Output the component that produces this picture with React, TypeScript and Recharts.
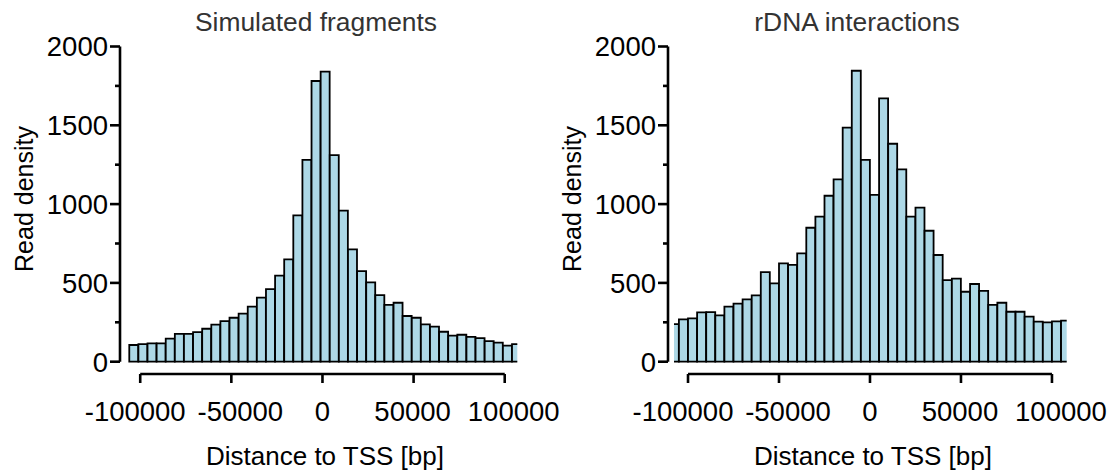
import { BarChart, Bar, XAxis, YAxis, ReferenceLine } from "recharts";

// bin centres (bp) and read densities
const simulatedBins = [
    -103500, -98500, -93500, -88500, -83500, -78500, -73500, -68500, -63500, -58500,
    -53500, -48500, -43500, -38500, -33500, -28500, -23500, -18500, -13500, -8500,
    -3500, 1500, 6500, 11500, 16500, 21500, 26500, 31500, 36500, 41500,
    46500, 51500, 56500, 61500, 66500, 71500, 76500, 81500, 86500, 91500,
    96500, 101500, 106500,
];
const simulatedDensity = [
    106, 112, 116, 116, 146, 176, 176, 188, 209, 235,
    258, 279, 305, 349, 406, 461, 546, 649, 928, 1280,
    1781, 1840, 1311, 958, 713, 575, 503, 423, 360, 374,
    290, 279, 237, 222, 190, 165, 171, 157, 150, 131,
    121, 102, 112,
];

const rdnaBins = [
    -107500, -102500, -97500, -92500, -87500, -82500, -77500, -72500, -67500, -62500,
    -57500, -52500, -47500, -42500, -37500, -32500, -27500, -22500, -17500, -12500,
    -7500, -2500, 2500, 7500, 12500, 17500, 22500, 27500, 32500, 37500,
    42500, 47500, 52500, 57500, 62500, 67500, 72500, 77500, 82500, 87500,
    92500, 97500, 102500, 107500,
];
const rdnaDensity = [
    239, 269, 275, 313, 315, 294, 349, 368, 396, 421,
    569, 497, 624, 615, 687, 850, 920, 1053, 1157, 1485,
    1846, 1280, 1058, 1671, 1383, 1220, 920, 977, 831, 677,
    518, 527, 444, 493, 450, 360, 374, 317, 317, 286,
    254, 250, 256, 260,
];

const xTicks = [-100000, -50000, 0, 50000, 100000];
const yTicks = [0, 250, 500, 750, 1000, 1250, 1500, 1750, 2000];
const yLabelled = [0, 500, 1000, 1500, 2000];

// the x tick labels sit a little off their ticks in the original
const xLabelNudge: Record<number, number> = { [-100000]: -5, [-50000]: 9, 0: 0, 50000: -1, 100000: 9 };

const FONT = '"Liberation Sans", Arial, Helvetica, sans-serif';
const CHART_W = 560;
const CHART_H = 475;
const TOP = 46.5;
const BASE = 361.7;
const Y_AXIS_W = 120;
const Y_GAP = 6;
const X_GAP = 12.3;
const AXIS_STROKE = 2.6;
const TICK_FONT = 27.5;
const X_LINE_Y = -(X_GAP / (BASE - TOP)) * 2000;

const YTick = (props: any) => {
    const { y, payload } = props;
    const major = yLabelled.includes(payload.value);
    const len = major ? 10 : 5;
    return (
        <g>
            <line x1={Y_AXIS_W - len} x2={Y_AXIS_W} y1={y} y2={y} stroke="#000" strokeWidth={AXIS_STROKE} />
            {major && (
                <text x={Y_AXIS_W - 12} y={y + TICK_FONT * 0.36} textAnchor="end"
                    fontFamily={FONT} fontSize={TICK_FONT} fill="#000">
                    {payload.value}
                </text>
            )}
        </g>
    );
};

const XTick = (props: any) => {
    const { x, payload } = props;
    const dx = xLabelNudge[payload.value] ?? 0;
    return (
        <g>
            <line x1={x} x2={x} y1={BASE + X_GAP} y2={BASE + X_GAP + 9} stroke="#000" strokeWidth={AXIS_STROKE} />
            <text x={x + dx} y={BASE + 59} textAnchor="middle" fontFamily={FONT} fontSize={TICK_FONT} fill="#000">
                {String(payload.value)}
            </text>
        </g>
    );
};

type PanelProps = {
    bins: number[];
    density: number[];
    domain: [number, number];
    left: number;
    marginRight: number;
    title: string;
    titleX: number;
};

function Panel({ bins, density, domain, left, marginRight, title, titleX }: PanelProps) {
    const data = bins.map((x, i) => ({ x, density: density[i] }));
    return (
        <div style={{ position: "absolute", left, top: 0, width: CHART_W, height: CHART_H }}>
            <div style={{
                position: "absolute", left: titleX - 200, top: 9, width: 400, textAlign: "center",
                fontFamily: FONT, fontSize: 26.4, lineHeight: "26px", color: "#333", whiteSpace: "nowrap",
            }}>{title}</div>
            <div style={{
                position: "absolute", left: 24.3 - 150, top: 198.5 - 13, width: 300, textAlign: "center",
                fontFamily: FONT, fontSize: 25, lineHeight: "26px", color: "#000", whiteSpace: "nowrap",
                transform: "rotate(-90deg)",
            }}>Read density</div>
            <div style={{
                position: "absolute", left: 325 - 200, top: 443, width: 400, textAlign: "center",
                fontFamily: FONT, fontSize: 26, lineHeight: "26px", color: "#000", whiteSpace: "nowrap",
            }}>Distance to TSS [bp]</div>
            <BarChart
                width={CHART_W}
                height={CHART_H}
                data={data}
                margin={{ top: TOP, right: marginRight, bottom: 0, left: 0 }}
                barCategoryGap={0}
                barGap={0}
            >
                <XAxis
                    dataKey="x"
                    type="number"
                    domain={domain}
                    allowDataOverflow
                    ticks={xTicks}
                    interval={0}
                    axisLine={false}
                    tickLine={false}
                    height={CHART_H - BASE}
                    tick={<XTick />}
                />
                <YAxis yAxisId="gap" width={Y_GAP} domain={[0, 2000]} tick={false} axisLine={false} tickLine={false} />
                <YAxis
                    yAxisId="main"
                    width={Y_AXIS_W}
                    domain={[0, 2000]}
                    ticks={yTicks}
                    interval={0}
                    tickLine={false}
                    axisLine={{ stroke: "#000", strokeWidth: AXIS_STROKE }}
                    tick={<YTick />}
                />
                <Bar
                    dataKey="density"
                    yAxisId="main"
                    fill="#ADD8E6"
                    stroke="#000"
                    strokeWidth={1.8}
                    isAnimationActive={false}
                />
                <ReferenceLine
                    yAxisId="main"
                    segment={[{ x: -100000, y: X_LINE_Y }, { x: 100000, y: X_LINE_Y }]}
                    ifOverflow="visible"
                    stroke="#000"
                    strokeWidth={AXIS_STROKE}
                />
            </BarChart>
        </div>
    );
}

export default function App() {
    return (
        <div style={{ position: "absolute", left: 0, top: 0, width: 1120, height: 475, background: "#fff", overflow: "hidden" }}>
            <Panel bins={simulatedBins} density={simulatedDensity} domain={[-107800, 106900]}
                left={0} marginRight={42.7} title="Simulated fragments" titleX={316} />
            <Panel bins={rdnaBins} density={rdnaDensity} domain={[-107700, 108100]}
                left={548} marginRight={41.3} title="rDNA interactions" titleX={309} />
        </div>
    );
}
